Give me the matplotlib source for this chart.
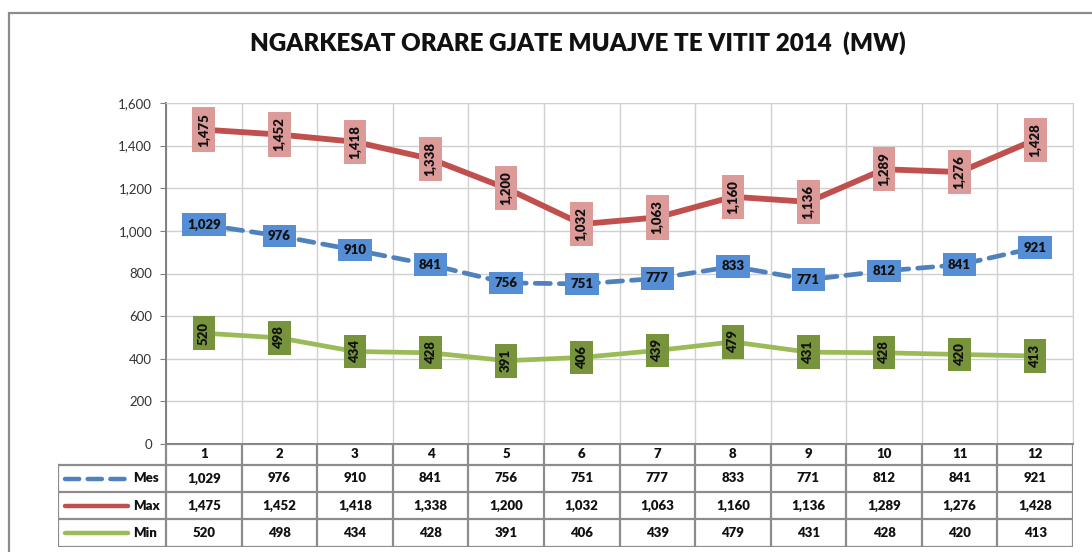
import matplotlib.pyplot as plt
from matplotlib.patches import Rectangle

plt.rcParams['font.family'] = ['Lato', 'DejaVu Sans']

# dados
muajt = [1, 2, 3, 4, 5, 6, 7, 8, 9, 10, 11, 12]
mes = [1029, 976, 910, 841, 756, 751, 777, 833, 771, 812, 841, 921]
mx = [1475, 1452, 1418, 1338, 1200, 1032, 1063, 1160, 1136, 1289, 1276, 1428]
mn = [520, 498, 434, 428, 391, 406, 439, 479, 431, 428, 420, 413]
seritë = ['Mes', 'Max', 'Min']
titulli = 'NGARKESAT ORARE GJATE MUAJVE TE VITIT 2014  (MW)'

c_mes = '#4f81bd'
c_max = '#c0504d'
c_min = '#9bbb59'
tracat = (0, (3.2, 1.9))

W, H = 1092, 552
fig = plt.figure(figsize=(W / 100, H / 100), dpi=100)

# borda externa do grafico
fig.add_artist(Rectangle((9 / W, -0.1), 1.2, 1 - 13 / H + 0.1, transform=fig.transFigure,
                         fill=False, ec='#8c8c8c', lw=1.6))

fig.text(578 / W, 1 - 43 / H, titulli, ha='center', va='center',
         fontsize=17.4, fontweight='heavy', color='#111111')

# area do grafico
x0, x1, ytop, ybot = 166, 1073, 103, 444
ax = fig.add_axes([x0 / W, 1 - ybot / H, (x1 - x0) / W, (ybot - ytop) / H])
xs = list(range(len(muajt)))
ax.plot(xs, mx, color=c_max, lw=4.2, solid_capstyle='round', zorder=3)
ax.plot(xs, mes, color=c_mes, lw=3.4, linestyle=tracat, dash_capstyle='round', zorder=3)
ax.plot(xs, mn, color=c_min, lw=3.4, solid_capstyle='round', zorder=3)

ax.set_xlim(-0.5, len(muajt) - 0.5)
ax.set_ylim(0, 1600)
ax.set_yticks(range(0, 1601, 200))
ax.set_yticklabels([f'{v:,}' for v in range(0, 1601, 200)], fontsize=9.5, color='#333333')
ax.set_xticks([])
ax.set_xticks([i - 0.5 for i in range(len(muajt) + 1)], minor=True)
ax.tick_params(axis='x', which='minor', length=0)
ax.tick_params(axis='y', length=4, color='#7f7f7f', pad=6)
ax.grid(True, axis='y', color='#d0d0d0', lw=1)
ax.grid(True, axis='x', which='minor', color='#d0d0d0', lw=1)
for s in ['top', 'right']:
    ax.spines[s].set_color('#d0d0d0')
for s in ['left', 'bottom']:
    ax.spines[s].set_color('#7f7f7f')
    ax.spines[s].set_linewidth(1.4)

# rotulos dos pontos
fs_lab = 9.5
for i in xs:
    ax.text(i, mx[i], f'{mx[i]:,}', rotation=90, ha='center', va='center', fontsize=fs_lab,
            fontweight='heavy', color='#111111', zorder=5,
            bbox=dict(boxstyle='square,pad=0.4', fc='#dc9a99', ec='none'))
    ax.text(i, mes[i], f'{mes[i]:,}', ha='center', va='center', fontsize=fs_lab,
            fontweight='heavy', color='#111111', zorder=5,
            bbox=dict(boxstyle='square,pad=0.4', fc='#558ed5', ec='none'))
    ax.text(i, mn[i], f'{mn[i]:,}', rotation=90, ha='center', va='center', fontsize=fs_lab,
            fontweight='heavy', color='#111111', zorder=5,
            bbox=dict(boxstyle='square,pad=0.4', fc='#77933c', ec='none'))

# tabela de dados
tl, tb = 58, 547
cw = (x1 - x0) / len(muajt)
lw_col = (x0 - tl) / cw
tax = fig.add_axes([tl / W, 1 - tb / H, (x1 - tl) / W, (tb - ybot) / H])
tax.set_xlim(-0.5 - lw_col, len(muajt) - 0.5)
tax.set_ylim(tb, ybot)
tax.axis('off')
rows = [444, 465, 492, 519, 547]
gc = '#8c8c8c'
# linhas horizontais
tax.plot([-0.5, len(muajt) - 0.5], [rows[0]] * 2, color=gc, lw=1.6)
for r in rows[1:]:
    tax.plot([-0.5 - lw_col, len(muajt) - 0.5], [r] * 2, color=gc, lw=1.6)
# linhas verticais
for i in range(len(muajt) + 1):
    tax.plot([i - 0.5] * 2, [rows[0], rows[-1]], color=gc, lw=1.6)
tax.plot([-0.5 - lw_col] * 2, [rows[1], rows[-1]], color=gc, lw=1.6)

fs_tab = 9.5
for i, m in enumerate(muajt):
    tax.text(i, (rows[0] + rows[1]) / 2, str(m), ha='center', va='center',
             fontsize=fs_tab, fontweight='heavy', color='#111111')
vals = [mes, mx, mn]
cols = [c_mes, c_max, c_min]
styles = [tracat, '-', '-']
for k, nome in enumerate(seritë):
    yc = (rows[k + 1] + rows[k + 2]) / 2
    for i in xs:
        tax.text(i, yc, f'{vals[k][i]:,}', ha='center', va='center',
                 fontsize=fs_tab, fontweight='heavy', color='#111111')
    lx0 = -0.5 - lw_col + 7 / cw
    lx1 = -0.5 - lw_col + 70 / cw
    tax.plot([lx0, lx1], [yc, yc], color=cols[k], lw=3.2, linestyle=styles[k],
             solid_capstyle='round', dash_capstyle='round')
    tax.text(-0.5 - lw_col + 75 / cw, yc, nome, ha='left', va='center',
             fontsize=fs_tab, fontweight='heavy', color='#111111')

plt.savefig('out.png', dpi=100)
